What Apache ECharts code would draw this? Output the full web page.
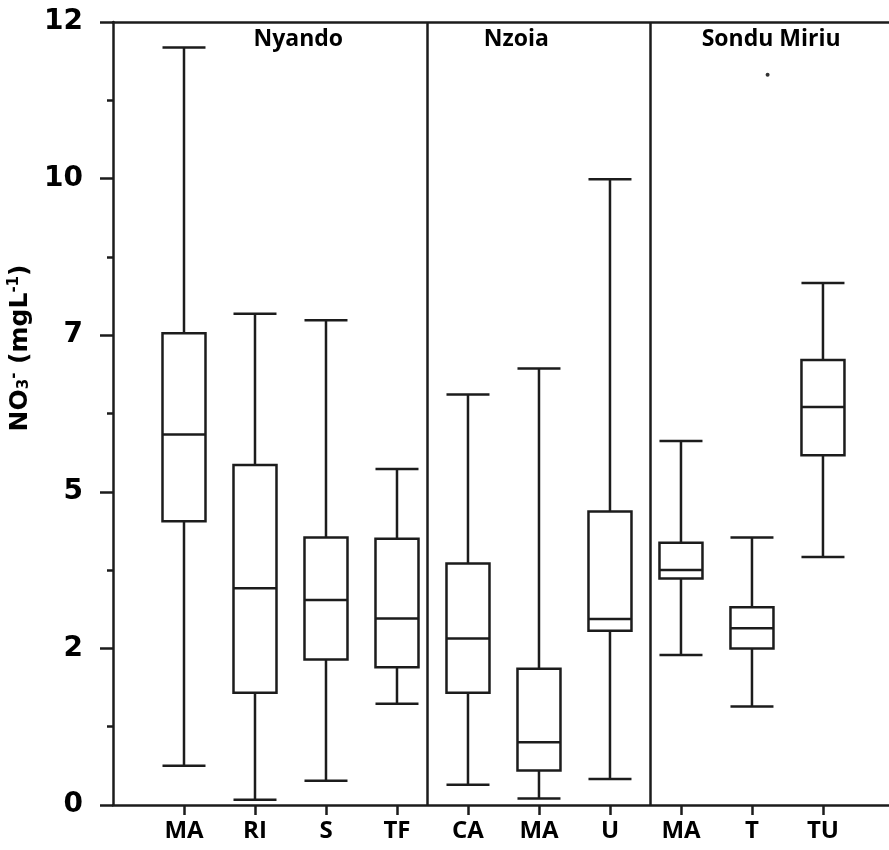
<!DOCTYPE html>
<html><head><meta charset="utf-8">
<script src="https://cdn.jsdelivr.net/npm/echarts@6/dist/echarts.min.js"></script>
<style>html,body{margin:0;padding:0;background:#fff}#c{width:889px;height:850px}</style>
</head><body><div id="c"></div>
<script>
// ---- data ----
const categories = ['MA','RI','S','TF','CA','MA','U','MA','T','TU'];
const groups = ['Nyando','Nzoia','Sondu Miriu'];
const lowWhisker  = [0.60, 0.08, 0.37, 1.55, 0.31, 0.10, 0.40, 2.30, 1.51, 3.80];
const q1          = [4.35, 1.72, 2.23, 2.11, 1.72, 0.53, 2.67, 3.47, 2.40, 5.36];
const median      = [5.68, 3.32, 3.14, 2.86, 2.55, 0.96, 2.85, 3.60, 2.71, 6.10];
const q3          = [7.23, 5.21, 4.10, 4.08, 3.70, 2.09, 4.50, 4.02, 3.03, 6.82];
const highWhisker = [11.61, 7.53, 7.43, 5.15, 6.29, 6.69, 9.59, 5.58, 4.10, 8.00];
const outliers = [[9.22, 11.19]];
const yTickLabels = ['0','2','5','7','10','12'];

// ---- layout ----
const groupLabelX = [2.61, 5.68, 9.27];
const groupLabelY = 11.74;
const separatorsX = [4.42, 7.57];
const INK = '#1c1c1c';
const LW = 2.5;
const xPos = categories.map((c, i) => i + 1);

const chart = echarts.init(document.getElementById('c'), null, {renderer: 'canvas'});
chart.setOption({
  backgroundColor: '#fff',
  animation: false,
  grid: {left: 113, right: 0, top: 22, bottom: 45},
  xAxis: [{
    type: 'value', min: 0, max: 10.93, position: 'bottom',
    axisLine: {show: true, onZero: false, lineStyle: {color: INK, width: LW}},
    axisTick: {show: true, customValues: xPos, length: 10, lineStyle: {color: INK, width: LW}},
    axisLabel: {show: true, customValues: xPos, formatter: v => categories[Math.round(v) - 1],
      fontFamily: 'Open Sans', fontWeight: 'bold', fontSize: 24, color: '#000', margin: 14},
    splitLine: {show: false}
  }, {
    type: 'value', min: 0, max: 10.93, position: 'top',
    axisLine: {show: true, onZero: false, lineStyle: {color: INK, width: LW}},
    axisTick: {show: false}, axisLabel: {show: false}, splitLine: {show: false}
  }],
  yAxis: [{
    type: 'value', min: 0, max: 12, interval: 2.4,
    axisLine: {show: true, lineStyle: {color: INK, width: LW}},
    axisTick: {show: true, length: 13, lineStyle: {color: INK, width: LW}},
    minorTick: {show: true, splitNumber: 2, length: 6, lineStyle: {color: INK, width: LW}},
    splitLine: {show: false}, minorSplitLine: {show: false},
    axisLabel: {formatter: v => yTickLabels[Math.round(v / 2.4)], fontFamily: 'DejaVu Sans',
      fontWeight: 'bold', fontSize: 28, color: '#000', margin: 30}
  }],
  graphic: [{
    type: 'text', x: 20, y: 348, rotation: Math.PI / 2,
    style: {
      text: '{a|NO}{sub|3}{sup|-}{a| (mgL}{sup|-1}{a|)}',
      align: 'center', verticalAlign: 'middle',
      rich: {
        a: {fontFamily: 'DejaVu Sans', fontWeight: 'bold', fontSize: 25, fill: '#000', lineHeight: 32, verticalAlign: 'middle'},
        sub: {fontFamily: 'DejaVu Sans', fontWeight: 'bold', fontSize: 15, fill: '#000', lineHeight: 32, verticalAlign: 'bottom', padding: [0,0,4,0]},
        sup: {fontFamily: 'DejaVu Sans', fontWeight: 'bold', fontSize: 15, fill: '#000', lineHeight: 32, verticalAlign: 'top', padding: [3,0,0,0]}
      }
    }
  }],
  series: [{
    type: 'boxplot', xAxisIndex: 0,
    data: categories.map((c, i) => [xPos[i], lowWhisker[i], q1[i], median[i], q3[i], highWhisker[i]]),
    boxWidth: [43, 43],
    itemStyle: {color: '#fff', borderColor: INK, borderWidth: LW},
    emphasis: {disabled: true},
    markLine: {
      silent: true, symbol: 'none', label: {show: false},
      lineStyle: {color: INK, width: LW, type: 'solid'},
      data: separatorsX.map(x => ({xAxis: x}))
    }
  }, {
    type: 'scatter', xAxisIndex: 0, data: outliers, symbolSize: 4,
    itemStyle: {color: '#000'}
  }, {
    type: 'scatter', xAxisIndex: 0, symbolSize: 0, silent: true,
    data: groups.map((g, i) => ({name: g, value: [groupLabelX[i], groupLabelY]})),
    label: {show: true, position: 'inside', formatter: '{b}', fontFamily: 'Open Sans',
      fontWeight: 'bold', fontSize: 23, color: '#000', opacity: 1}
  }]
});
</script></body></html>
